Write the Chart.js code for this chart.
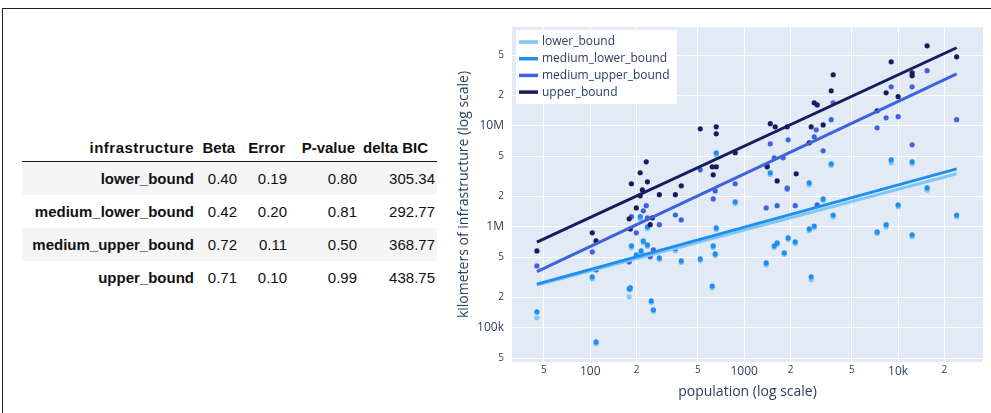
<!DOCTYPE html>
<html>
<head>
<meta charset="utf-8">
<script src="https://cdn.jsdelivr.net/npm/chart.js@4.4.1/dist/chart.umd.min.js"></script>
<style>
  html, body { margin: 0; padding: 0; background: #fff; }
  body { width: 991px; height: 413px; position: relative; overflow: hidden; }
  #frame { position: absolute; left: 2px; top: 8px; width: 989px; height: 405px; box-sizing: border-box;
           border-top: 1px solid #222; border-left: 1px solid #222; }
  #stats { position: absolute; left: 22px; top: 133px; width: 415px; border-collapse: collapse; table-layout: fixed;
           font-family: "Liberation Sans", Arial, Helvetica, sans-serif; font-size: 15px; color: #111; }
  #stats th, #stats td { text-align: right; padding: 0 2px 0 0; height: 33px; white-space: nowrap; }
  #stats thead th { height: 28px; border-bottom: 1.5px solid #111; padding-right: 4px; }
  #stats thead th:first-child { padding-right: 2px; letter-spacing: 0.5px; }
  #stats thead th:last-child { padding-right: 9px; }
  #stats tbody td { font-weight: normal; }
  #stats tbody tr:nth-child(odd) { background: #f5f5f5; }
  #chartBox { position: absolute; left: 445px; top: 8px; width: 546px; height: 397px; }
</style>
</head>
<body>
<div id="frame"></div>
<table id="stats">
  <colgroup><col style="width:174px"><col style="width:43px"><col style="width:50px"><col style="width:70px"><col style="width:78px"></colgroup>
  <thead><tr></tr></thead>
  <tbody></tbody>
</table>
<div id="chartBox"><canvas id="scaling"></canvas></div>
<script>
// ---- table ----
const tableHeaders = ['infrastructure', 'Beta', 'Error', 'P-value', 'delta BIC'];
const boundNames = ['lower_bound', 'medium_lower_bound', 'medium_upper_bound', 'upper_bound'];
const betaVals = [0.40, 0.42, 0.72, 0.71];
const errorVals = [0.19, 0.20, 0.11, 0.10];
const pVals = [0.80, 0.81, 0.50, 0.99];
const deltaBIC = [305.34, 292.77, 368.77, 438.75];

// ---- scatter points (population, km of infrastructure) ----
const upperPop = [45, 103, 109, 179, 182, 185, 199, 211, 211, 218, 231, 235, 245, 253, 281, 357, 390, 518, 620, 629,
  658, 658, 658, 874, 1410, 1477, 1590, 1637, 1902, 2177, 2645, 2723, 2850, 2980, 3258, 3673, 3785, 7306, 8357, 9015,
  10000, 12330, 12330, 15430, 24000];
const upperKm = [578e3, 873e3, 726e3, 1.20e6, 955e3, 2.67e6, 1.54e6, 2.03e6, 3.43e6, 2.32e6, 4.40e6, 2.79e6, 1.05e6, 1.23e6,
  2.08e6, 2.08e6, 2.55e6, 9.33e6, 3.93e6, 3.27e6, 9.77e6, 8.33e6, 3.93e6, 5.41e6, 3.93e6, 10.5e6, 9.77e6, 2.85e6, 9.77e6,
  3.35e6, 6.79e6, 9.77e6, 16.9e6, 16.1e6, 10.2e6, 22.2e6, 32.0e6, 14.1e6, 21.2e6, 43.0e6, 19.4e6, 33.5e6, 31.3e6, 61.9e6, 48.2e6];

const medUpperPop = [45, 103, 109, 179, 185, 199, 221, 231, 235, 245, 257, 281, 357, 390, 518, 629, 648, 874, 1390, 1410,
  1477, 1567, 1637, 1790, 1902, 1930, 2144, 2850, 2937, 2980, 3258, 3673, 3785, 7306, 8357, 9015, 10000, 12330, 12330,
  15430, 24000];
const medUpperKm = [411e3, 565e3, 375e3, 450e3, 1.26e6, 873e3, 1.44e6, 1.62e6, 1.23e6, 505e3, 592e3, 1.05e6, 1.31e6, 1.17e6,
  3.67e6, 1.89e6, 2.27e6, 2.67e6, 1.54e6, 4.02e6, 6.63e6, 4.82e6, 1.62e6, 4.82e6, 2.38e6, 7.26e6, 1.62e6, 7.78e6, 9.12e6,
  1.65e6, 5.65e6, 11.5e6, 16.9e6, 9.55e6, 12.0e6, 24.3e6, 12.3e6, 24.3e6, 6.48e6, 35.1e6, 11.5e6];

const medLowerPop = [45, 103, 109, 179, 182, 185, 199, 211, 214, 221, 235, 235, 249, 257, 281, 357, 390, 518, 620, 629,
  648, 658, 658, 874, 1390, 1477, 1567, 1637, 1820, 1902, 1930, 2144, 2645, 2645, 2723, 2850, 3258, 3673, 3785, 7306,
  8357, 9015, 10000, 12330, 12330, 15430, 24000];
const medLowerKm = [144e3, 320e3, 72.6e3, 243e3, 250e3, 649e3, 528e3, 1.26e6, 578e3, 726e3, 1.0e6, 663e3, 185e3, 151e3,
  493e3, 606e3, 460e3, 482e3, 260e3, 649e3, 540e3, 977e3, 5.41e6, 1.77e6, 440e3, 3.43e6, 649e3, 694e3, 553e3, 2.43e6,
  778e3, 710e3, 955e3, 2.73e6, 320e3, 1.02e6, 1.89e6, 4.21e6, 1.31e6, 891e3, 1.05e6, 4.60e6, 1.65e6, 4.40e6, 834e3,
  2.43e6, 1.31e6];

const lowerPop = medLowerPop;
const lowerKm = [126e3, 305e3, 70e3, 203e3, 238e3, 620e3, 505e3, 1.2e6, 555e3, 700e3, 960e3, 640e3, 178e3, 146e3,
  475e3, 580e3, 445e3, 462e3, 250e3, 625e3, 520e3, 940e3, 5.1e6, 1.7e6, 420e3, 3.3e6, 625e3, 670e3, 535e3, 2.35e6,
  750e3, 685e3, 915e3, 2.6e6, 300e3, 980e3, 1.82e6, 4.05e6, 1.25e6, 860e3, 1.0e6, 4.3e6, 1.58e6, 4.2e6, 800e3,
  2.3e6, 1.26e6];

// ---- fitted lines (endpoints) ----
const fitPop = [45, 24000];
const fitLower = [265e3, 3.35e6];
const fitMedLower = [271e3, 3.75e6];
const fitMedUpper = [361e3, 32.7e6];
const fitUpper = [705e3, 59.2e6];

// ---- ticks ----
const xTicks = [50, 100, 200, 500, 1000, 2000, 5000, 10000, 20000];
const yTicks = [5e4, 1e5, 2e5, 5e5, 1e6, 2e6, 5e6, 1e7, 2e7, 5e7];

const COLORS = ['#7fc8f6', '#1f8ef0', '#3f62de', '#181b5e'];
const TEXT = '#2a3f5f';

// table
const headRow = document.querySelector('#stats thead tr');
tableHeaders.forEach(h => {
    const th = document.createElement('th');
    th.textContent = h;
    headRow.appendChild(th);
});
const tbody = document.querySelector('#stats tbody');
boundNames.forEach((name, i) => {
    const tr = document.createElement('tr');
    tr.innerHTML = `
        <th>${name}</th>
        <td>${betaVals[i].toFixed(2)}</td>
        <td>${errorVals[i].toFixed(2)}</td>
        <td>${pVals[i].toFixed(2)}</td>
        <td>${deltaBIC[i].toFixed(2)}</td>`;
    tbody.appendChild(tr);
});

// chart helpers
const zip = (xs, ys) => xs.map((x, i) => ({ x, y: ys[i] }));
const leadDigit = v => Math.round(v / Math.pow(10, Math.floor(Math.log10(v) + 1e-9)));

function tickText(v) {
    const d = leadDigit(v);
    if (d !== 1) return String(d);
    if (v >= 1e6) return (v / 1e6) + 'M';
    if (v >= 1e4) return (v / 1e3) + 'k';
    return String(v);
}

const tickFont = ctx => ({
    family: '"Open Sans", "Liberation Sans", sans-serif',
    size: ctx.tick && leadDigit(ctx.tick.value) !== 1 ? 10 : 12
});

const plotBg = {
    id: 'plotBg',
    beforeDraw(chart) {
        const { ctx, chartArea: a } = chart;
        ctx.save();
        ctx.fillStyle = '#e2eaf5';
        ctx.fillRect(a.left, a.top, a.right - a.left, a.bottom - a.top);
        ctx.restore();
    }
};

const boxLegend = {
    id: 'boxLegend',
    afterDatasetsDraw(chart) {
        const { ctx, chartArea: a } = chart;
        const lines = chart.data.datasets.filter(d => d.fit);
        const x0 = a.left + 4, y0 = a.top + 3;
        ctx.save();
        ctx.fillStyle = 'rgba(255,255,255,0.95)';
        ctx.fillRect(x0, y0, 161, 74);
        ctx.font = '12px "Open Sans", "Liberation Sans", sans-serif';
        ctx.textBaseline = 'middle';
        lines.forEach((d, i) => {
            const y = y0 + 12 + i * 16.7;
            ctx.strokeStyle = d.borderColor;
            ctx.lineWidth = 3.5;
            ctx.beginPath();
            ctx.moveTo(x0 + 3, y);
            ctx.lineTo(x0 + 22, y);
            ctx.stroke();
            ctx.fillStyle = TEXT;
            ctx.fillText(d.label, x0 + 26, y);
        });
        ctx.restore();
    }
};

const pointSet = (label, xs, ys, color, order) => ({
    label, data: zip(xs, ys), showLine: false,
    pointRadius: 2.6, pointBorderWidth: 0, backgroundColor: color, borderColor: color, order
});
const fitSet = (label, ys, color, order) => ({
    label, fit: true, data: zip(fitPop, ys), showLine: true, borderColor: color, backgroundColor: color,
    borderWidth: 3, pointRadius: 0, order
});

new Chart(document.getElementById('scaling'), {
    type: 'scatter',
    data: {
        datasets: [
            fitSet('lower_bound', fitLower, COLORS[0], 3),
            fitSet('medium_lower_bound', fitMedLower, COLORS[1], 2),
            fitSet('medium_upper_bound', fitMedUpper, COLORS[2], 1),
            fitSet('upper_bound', fitUpper, COLORS[3], 0),
            pointSet('lower_bound pts', lowerPop, lowerKm, COLORS[0], 7),
            pointSet('medium_lower_bound pts', medLowerPop, medLowerKm, COLORS[1], 6),
            pointSet('medium_upper_bound pts', medUpperPop, medUpperKm, COLORS[2], 5),
            pointSet('upper_bound pts', upperPop, upperKm, COLORS[3], 4)
        ]
    },
    options: {
        responsive: true,
        maintainAspectRatio: false,
        animation: false,
        layout: { padding: { left: 0, right: 8, top: 19, bottom: 0 } },
        plugins: { legend: { display: false }, tooltip: { enabled: false } },
        scales: {
            x: {
                type: 'logarithmic', min: 31, max: 35600,
                afterBuildTicks: s => { s.ticks = xTicks.map(v => ({ value: v })); },
                afterFit: s => { s.height = 43; },
                ticks: { callback: v => tickText(v), color: TEXT, font: tickFont, padding: 2, maxRotation: 0, autoSkip: false },
                grid: { color: '#ffffff', lineWidth: 1, drawTicks: false },
                border: { display: false },
                title: { display: true, text: 'population (log scale)', color: TEXT,
                         font: { family: '"Open Sans", "Liberation Sans", sans-serif', size: 14, lineHeight: 1.2 },
                         padding: { top: 0, bottom: 5 } }
            },
            y: {
                type: 'logarithmic', min: 46000, max: 95e6,
                afterBuildTicks: s => { s.ticks = yTicks.map(v => ({ value: v })); },
                afterFit: s => { s.width = 67; },
                ticks: { callback: v => tickText(v), color: TEXT, font: tickFont, padding: 8, autoSkip: false },
                grid: { color: '#ffffff', lineWidth: 1, drawTicks: false },
                border: { display: false },
                title: { display: true, text: 'kilometers of infrastructure (log scale)', color: TEXT,
                         font: { family: '"Open Sans", "Liberation Sans", sans-serif', size: 14, lineHeight: 1.2 },
                         padding: { top: 11, bottom: 0 } }
            }
        }
    },
    plugins: [plotBg, boxLegend]
});
</script>
</body>
</html>
